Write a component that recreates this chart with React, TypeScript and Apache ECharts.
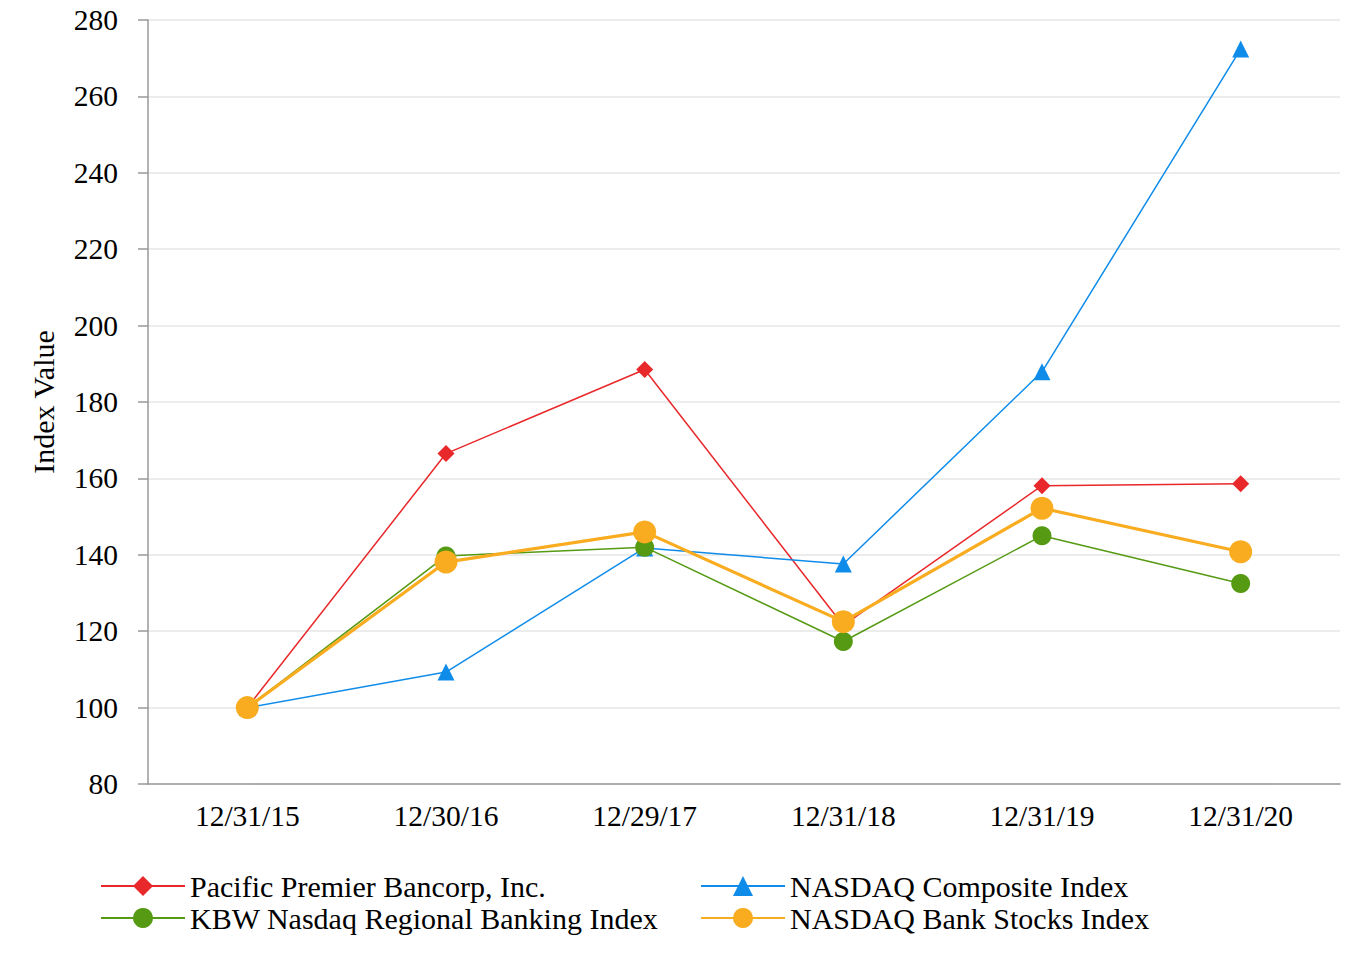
import React, { useEffect, useRef } from "react";
import * as echarts from "echarts";

const categories = ["12/31/15", "12/30/16", "12/29/17", "12/31/18", "12/31/19", "12/31/20"];
const pacificPremier = [100, 166.5, 188.5, 121.5, 158.1, 158.6];
const nasdaqComposite = [100, 109.3, 141.8, 137.6, 187.9, 272.4];
const kbwRegional = [100, 139.7, 142.0, 117.3, 145.0, 132.5];
const nasdaqBank = [100, 138.1, 146.0, 122.5, 152.2, 140.8];
const yTicks = { min: 80, max: 280, interval: 20 };

const FONT = "'Liberation Serif', 'Times New Roman', serif";

export default function App() {
  const ref = useRef<HTMLDivElement>(null);
  useEffect(() => {
    if (!ref.current) return;
    const chart = echarts.init(ref.current, undefined, { renderer: "svg" });
    const legendText = { fontFamily: FONT, fontSize: 30, color: "#000" };
    const legendCommon = {
      orient: "vertical",
      top: 866,
      itemWidth: 84,
      itemHeight: 25,
      itemGap: 2,
      textStyle: legendText,
    };
    chart.setOption({
      animation: false,
      backgroundColor: "#fff",
      grid: { left: 148, right: 20, top: 20, bottom: 176 },
      legend: [
        {
          ...legendCommon,
          left: 95,
          data: ["Pacific Premier Bancorp, Inc.", "KBW Nasdaq Regional Banking Index"],
        },
        {
          ...legendCommon,
          left: 695,
          data: ["NASDAQ Composite Index", "NASDAQ Bank Stocks Index"],
        },
      ],
      xAxis: {
        type: "category",
        data: categories,
        boundaryGap: true,
        axisLine: { lineStyle: { color: "#999", width: 1.5 } },
        axisTick: { alignWithLabel: true, length: 10, lineStyle: { color: "#999", width: 1.5 } },
        axisLabel: { fontFamily: FONT, fontSize: 29.5, color: "#000", margin: 17 },
      },
      yAxis: {
        type: "value",
        min: yTicks.min,
        max: yTicks.max,
        interval: yTicks.interval,
        name: "Index Value",
        nameLocation: "middle",
        nameGap: 90,
        nameTextStyle: { fontFamily: FONT, fontSize: 30, color: "#000" },
        axisLine: { show: true, lineStyle: { color: "#999", width: 1.5 } },
        axisTick: { show: true, length: 10, lineStyle: { color: "#999", width: 1.5 } },
        axisLabel: { fontFamily: FONT, fontSize: 29.5, color: "#000", margin: 30 },
        splitLine: { lineStyle: { color: "#e6e6e6", width: 1.5 } },
      },
      series: [
        {
          name: "Pacific Premier Bancorp, Inc.",
          type: "line",
          data: pacificPremier,
          symbol: "diamond",
          symbolSize: 17,
          color: "#e8282b",
          lineStyle: { width: 1.5, color: "#e8282b" },
          itemStyle: { color: "#e8282b" },
        },
        {
          name: "NASDAQ Composite Index",
          type: "line",
          data: nasdaqComposite,
          symbol: "triangle",
          symbolSize: 17,
          color: "#0f8cea",
          lineStyle: { width: 1.5, color: "#0f8cea" },
          itemStyle: { color: "#0f8cea" },
        },
        {
          name: "KBW Nasdaq Regional Banking Index",
          type: "line",
          data: kbwRegional,
          symbol: "circle",
          symbolSize: 19,
          color: "#559a12",
          lineStyle: { width: 1.5, color: "#559a12" },
          itemStyle: { color: "#559a12" },
        },
        {
          name: "NASDAQ Bank Stocks Index",
          type: "line",
          data: nasdaqBank,
          symbol: "circle",
          symbolSize: 23,
          color: "#f9ac1f",
          lineStyle: { width: 3.2, color: "#f9ac1f" },
          itemStyle: { color: "#f9ac1f" },
        },
      ],
    });
    return () => chart.dispose();
  }, []);
  return <div ref={ref} style={{ width: 1360, height: 960, position: "absolute", left: 0, top: 0 }} />;
}
